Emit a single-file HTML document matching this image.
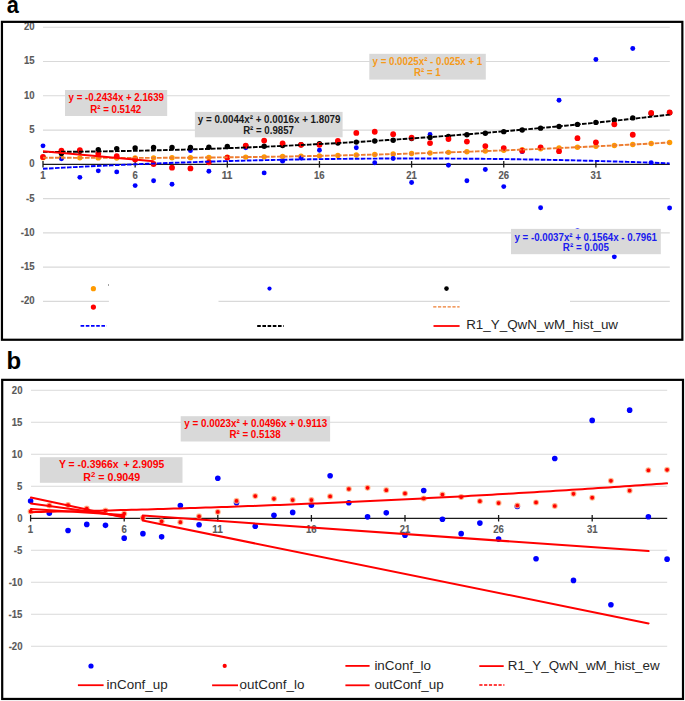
<!DOCTYPE html><html><head><meta charset="utf-8"><title>Chart</title>
<style>html,body{margin:0;padding:0;background:#fff;}svg{display:block;}text{font-family:"Liberation Sans",sans-serif;}</style></head><body>
<svg width="685" height="701" viewBox="0 0 685 701">
<rect x="0" y="0" width="685" height="701" fill="#fff"/>
<text x="6.4" y="368.6" font-size="24" font-weight="bold" fill="#000">b</text>
<text x="6.66" y="13.3" font-size="24" font-weight="bold" fill="#000" textLength="12.10" lengthAdjust="spacingAndGlyphs">a</text>
<line x1="43" y1="27.29" x2="669.8" y2="27.29" stroke="#d9d9d9" stroke-width="1.1"/>
<line x1="43" y1="61.55" x2="669.8" y2="61.55" stroke="#d9d9d9" stroke-width="1.1"/>
<line x1="43" y1="95.82" x2="669.8" y2="95.82" stroke="#d9d9d9" stroke-width="1.1"/>
<line x1="43" y1="130.08" x2="669.8" y2="130.08" stroke="#d9d9d9" stroke-width="1.1"/>
<line x1="43" y1="198.62" x2="669.8" y2="198.62" stroke="#d9d9d9" stroke-width="1.1"/>
<line x1="43" y1="232.88" x2="669.8" y2="232.88" stroke="#d9d9d9" stroke-width="1.1"/>
<line x1="43" y1="267.14" x2="669.8" y2="267.14" stroke="#d9d9d9" stroke-width="1.1"/>
<line x1="43" y1="301.41" x2="108.9" y2="301.41" stroke="#d9d9d9" stroke-width="1.1"/>
<line x1="218.5" y1="301.41" x2="459.8" y2="301.41" stroke="#d9d9d9" stroke-width="1.1"/>
<line x1="570" y1="301.41" x2="669.8" y2="301.41" stroke="#d9d9d9" stroke-width="1.1"/>
<text x="24.05" y="30.19" font-size="10" font-weight="bold" fill="#595959" textLength="10.64" lengthAdjust="spacingAndGlyphs" stroke="#595959" stroke-width="0.12">20</text>
<text x="23.92" y="64.45" font-size="10" font-weight="bold" fill="#595959" textLength="10.64" lengthAdjust="spacingAndGlyphs" stroke="#595959" stroke-width="0.12">15</text>
<text x="24.05" y="98.72" font-size="10" font-weight="bold" fill="#595959" textLength="10.64" lengthAdjust="spacingAndGlyphs" stroke="#595959" stroke-width="0.12">10</text>
<text x="29.24" y="132.98" font-size="10" font-weight="bold" fill="#595959" textLength="5.32" lengthAdjust="spacingAndGlyphs" stroke="#595959" stroke-width="0.12">5</text>
<text x="29.37" y="167.25" font-size="10" font-weight="bold" fill="#595959" textLength="5.32" lengthAdjust="spacingAndGlyphs" stroke="#595959" stroke-width="0.12">0</text>
<text x="26.06" y="201.52" font-size="10" font-weight="bold" fill="#595959" textLength="8.51" lengthAdjust="spacingAndGlyphs" stroke="#595959" stroke-width="0.12">-5</text>
<text x="20.86" y="235.78" font-size="10" font-weight="bold" fill="#595959" textLength="13.83" lengthAdjust="spacingAndGlyphs" stroke="#595959" stroke-width="0.12">-10</text>
<text x="20.73" y="270.04" font-size="10" font-weight="bold" fill="#595959" textLength="13.83" lengthAdjust="spacingAndGlyphs" stroke="#595959" stroke-width="0.12">-15</text>
<text x="20.86" y="304.31" font-size="10" font-weight="bold" fill="#595959" textLength="13.83" lengthAdjust="spacingAndGlyphs" stroke="#595959" stroke-width="0.12">-20</text>
<line x1="43" y1="164.35" x2="669.8" y2="164.35" stroke="#1a1a1a" stroke-width="1.3"/>
<line x1="43" y1="161.05" x2="43" y2="167.55" stroke="#1a1a1a" stroke-width="1.3"/>
<text x="40.17" y="178.7" font-size="10" font-weight="bold" fill="#595959" textLength="5.32" lengthAdjust="spacingAndGlyphs" stroke="#595959" stroke-width="0.12">1</text>
<line x1="135.15" y1="161.05" x2="135.15" y2="167.55" stroke="#1a1a1a" stroke-width="1.3"/>
<text x="132.49" y="178.7" font-size="10" font-weight="bold" fill="#595959" textLength="5.32" lengthAdjust="spacingAndGlyphs" stroke="#595959" stroke-width="0.12">6</text>
<line x1="227.3" y1="161.05" x2="227.3" y2="167.55" stroke="#1a1a1a" stroke-width="1.3"/>
<text x="221.81" y="178.7" font-size="10" font-weight="bold" fill="#595959" textLength="10.64" lengthAdjust="spacingAndGlyphs" stroke="#595959" stroke-width="0.12">11</text>
<line x1="319.45" y1="161.05" x2="319.45" y2="167.55" stroke="#1a1a1a" stroke-width="1.3"/>
<text x="314" y="178.7" font-size="10" font-weight="bold" fill="#595959" textLength="10.64" lengthAdjust="spacingAndGlyphs" stroke="#595959" stroke-width="0.12">16</text>
<line x1="411.6" y1="161.05" x2="411.6" y2="167.55" stroke="#1a1a1a" stroke-width="1.3"/>
<text x="406.24" y="178.7" font-size="10" font-weight="bold" fill="#595959" textLength="10.64" lengthAdjust="spacingAndGlyphs" stroke="#595959" stroke-width="0.12">21</text>
<line x1="503.75" y1="161.05" x2="503.75" y2="167.55" stroke="#1a1a1a" stroke-width="1.3"/>
<text x="498.43" y="178.7" font-size="10" font-weight="bold" fill="#595959" textLength="10.64" lengthAdjust="spacingAndGlyphs" stroke="#595959" stroke-width="0.12">26</text>
<line x1="595.9" y1="161.05" x2="595.9" y2="167.55" stroke="#1a1a1a" stroke-width="1.3"/>
<text x="590.6" y="178.7" font-size="10" font-weight="bold" fill="#595959" textLength="10.64" lengthAdjust="spacingAndGlyphs" stroke="#595959" stroke-width="0.12">31</text>
<circle cx="43" cy="157.65" r="2.7" fill="#ff9a00"/>
<circle cx="61.43" cy="157.77" r="2.7" fill="#ff9a00"/>
<circle cx="79.86" cy="157.86" r="2.7" fill="#ff9a00"/>
<circle cx="98.29" cy="157.91" r="2.7" fill="#ff9a00"/>
<circle cx="116.72" cy="157.93" r="2.7" fill="#ff9a00"/>
<circle cx="135.15" cy="157.91" r="2.7" fill="#ff9a00"/>
<circle cx="153.58" cy="157.86" r="2.7" fill="#ff9a00"/>
<circle cx="172.01" cy="157.77" r="2.7" fill="#ff9a00"/>
<circle cx="190.44" cy="157.65" r="2.7" fill="#ff9a00"/>
<circle cx="208.87" cy="157.5" r="2.7" fill="#ff9a00"/>
<circle cx="227.3" cy="157.31" r="2.7" fill="#ff9a00"/>
<circle cx="245.73" cy="157.09" r="2.7" fill="#ff9a00"/>
<circle cx="264.16" cy="156.83" r="2.7" fill="#ff9a00"/>
<circle cx="282.59" cy="156.54" r="2.7" fill="#ff9a00"/>
<circle cx="301.02" cy="156.21" r="2.7" fill="#ff9a00"/>
<circle cx="319.45" cy="155.85" r="2.7" fill="#ff9a00"/>
<circle cx="337.88" cy="155.46" r="2.7" fill="#ff9a00"/>
<circle cx="356.31" cy="155.03" r="2.7" fill="#ff9a00"/>
<circle cx="374.74" cy="154.57" r="2.7" fill="#ff9a00"/>
<circle cx="393.17" cy="154.07" r="2.7" fill="#ff9a00"/>
<circle cx="411.6" cy="153.54" r="2.7" fill="#ff9a00"/>
<circle cx="430.03" cy="152.97" r="2.7" fill="#ff9a00"/>
<circle cx="448.46" cy="152.37" r="2.7" fill="#ff9a00"/>
<circle cx="466.89" cy="151.74" r="2.7" fill="#ff9a00"/>
<circle cx="485.32" cy="151.07" r="2.7" fill="#ff9a00"/>
<circle cx="503.75" cy="150.37" r="2.7" fill="#ff9a00"/>
<circle cx="522.18" cy="149.63" r="2.7" fill="#ff9a00"/>
<circle cx="540.61" cy="148.86" r="2.7" fill="#ff9a00"/>
<circle cx="559.04" cy="148.06" r="2.7" fill="#ff9a00"/>
<circle cx="577.47" cy="147.22" r="2.7" fill="#ff9a00"/>
<circle cx="595.9" cy="146.34" r="2.7" fill="#ff9a00"/>
<circle cx="614.33" cy="145.44" r="2.7" fill="#ff9a00"/>
<circle cx="632.76" cy="144.49" r="2.7" fill="#ff9a00"/>
<circle cx="651.19" cy="143.52" r="2.7" fill="#ff9a00"/>
<circle cx="669.62" cy="142.51" r="2.7" fill="#ff9a00"/>
<circle cx="43" cy="145.85" r="2.45" fill="#0000ff"/>
<circle cx="61.43" cy="158.87" r="2.45" fill="#0000ff"/>
<circle cx="79.86" cy="177.37" r="2.45" fill="#0000ff"/>
<circle cx="98.29" cy="170.86" r="2.45" fill="#0000ff"/>
<circle cx="116.72" cy="171.89" r="2.45" fill="#0000ff"/>
<circle cx="135.15" cy="185.59" r="2.45" fill="#0000ff"/>
<circle cx="153.58" cy="180.8" r="2.45" fill="#0000ff"/>
<circle cx="172.01" cy="184.22" r="2.45" fill="#0000ff"/>
<circle cx="190.44" cy="150.64" r="2.45" fill="#0000ff"/>
<circle cx="208.87" cy="171.2" r="2.45" fill="#0000ff"/>
<circle cx="227.3" cy="121.52" r="2.45" fill="#0000ff"/>
<circle cx="245.73" cy="147.77" r="2.45" fill="#0000ff"/>
<circle cx="264.16" cy="172.92" r="2.45" fill="#0000ff"/>
<circle cx="282.59" cy="161.13" r="2.45" fill="#0000ff"/>
<circle cx="301.02" cy="158.05" r="2.45" fill="#0000ff"/>
<circle cx="319.45" cy="150.3" r="2.45" fill="#0000ff"/>
<circle cx="337.88" cy="118.78" r="2.45" fill="#0000ff"/>
<circle cx="356.31" cy="147.77" r="2.45" fill="#0000ff"/>
<circle cx="374.74" cy="162.77" r="2.45" fill="#0000ff"/>
<circle cx="393.17" cy="158.52" r="2.45" fill="#0000ff"/>
<circle cx="411.6" cy="182.51" r="2.45" fill="#0000ff"/>
<circle cx="430.03" cy="134.54" r="2.45" fill="#0000ff"/>
<circle cx="448.46" cy="165.31" r="2.45" fill="#0000ff"/>
<circle cx="466.89" cy="180.8" r="2.45" fill="#0000ff"/>
<circle cx="485.32" cy="169.49" r="2.45" fill="#0000ff"/>
<circle cx="503.75" cy="186.62" r="2.45" fill="#0000ff"/>
<circle cx="522.18" cy="151.67" r="2.45" fill="#0000ff"/>
<circle cx="540.61" cy="207.73" r="2.45" fill="#0000ff"/>
<circle cx="559.04" cy="100.27" r="2.45" fill="#0000ff"/>
<circle cx="577.47" cy="230.82" r="2.45" fill="#0000ff"/>
<circle cx="595.9" cy="59.5" r="2.45" fill="#0000ff"/>
<circle cx="614.33" cy="256.87" r="2.45" fill="#0000ff"/>
<circle cx="632.76" cy="48.53" r="2.45" fill="#0000ff"/>
<circle cx="651.19" cy="162.64" r="2.45" fill="#0000ff"/>
<circle cx="669.62" cy="208.07" r="2.45" fill="#0000ff"/>
<circle cx="61.43" cy="153.39" r="2.7" fill="#000"/>
<circle cx="79.86" cy="151.33" r="2.7" fill="#000"/>
<circle cx="98.29" cy="149.62" r="2.7" fill="#000"/>
<circle cx="116.72" cy="148.59" r="2.7" fill="#000"/>
<circle cx="135.15" cy="147.97" r="2.7" fill="#000"/>
<circle cx="153.58" cy="147.56" r="2.7" fill="#000"/>
<circle cx="172.01" cy="147.56" r="2.7" fill="#000"/>
<circle cx="190.44" cy="147.56" r="2.7" fill="#000"/>
<circle cx="208.87" cy="147.22" r="2.7" fill="#000"/>
<circle cx="227.3" cy="146.53" r="2.7" fill="#000"/>
<circle cx="245.73" cy="145.85" r="2.7" fill="#000"/>
<circle cx="264.16" cy="146.19" r="2.7" fill="#000"/>
<circle cx="282.59" cy="145.5" r="2.7" fill="#000"/>
<circle cx="301.02" cy="144.82" r="2.7" fill="#000"/>
<circle cx="319.45" cy="143.79" r="2.7" fill="#000"/>
<circle cx="337.88" cy="143.11" r="2.7" fill="#000"/>
<circle cx="356.31" cy="142.08" r="2.7" fill="#000"/>
<circle cx="374.74" cy="141.05" r="2.7" fill="#000"/>
<circle cx="393.17" cy="140.23" r="2.7" fill="#000"/>
<circle cx="411.6" cy="138.58" r="2.7" fill="#000"/>
<circle cx="430.03" cy="137.42" r="2.7" fill="#000"/>
<circle cx="448.46" cy="136.39" r="2.7" fill="#000"/>
<circle cx="466.89" cy="134.68" r="2.7" fill="#000"/>
<circle cx="485.32" cy="133.31" r="2.7" fill="#000"/>
<circle cx="503.75" cy="131.66" r="2.7" fill="#000"/>
<circle cx="522.18" cy="130.02" r="2.7" fill="#000"/>
<circle cx="540.61" cy="128.17" r="2.7" fill="#000"/>
<circle cx="559.04" cy="126.45" r="2.7" fill="#000"/>
<circle cx="577.47" cy="124.4" r="2.7" fill="#000"/>
<circle cx="595.9" cy="122.41" r="2.7" fill="#000"/>
<circle cx="614.33" cy="119.87" r="2.7" fill="#000"/>
<circle cx="632.76" cy="117.89" r="2.7" fill="#000"/>
<circle cx="651.19" cy="113.5" r="2.7" fill="#000"/>
<circle cx="669.62" cy="112.82" r="2.7" fill="#000"/>
<circle cx="43" cy="157.02" r="2.9" fill="#ff0000"/>
<circle cx="61.43" cy="150.64" r="2.9" fill="#ff0000"/>
<circle cx="79.86" cy="150.1" r="2.9" fill="#ff0000"/>
<circle cx="98.29" cy="153.86" r="2.9" fill="#ff0000"/>
<circle cx="116.72" cy="156.13" r="2.9" fill="#ff0000"/>
<circle cx="135.15" cy="159.42" r="2.9" fill="#ff0000"/>
<circle cx="153.58" cy="164.01" r="2.9" fill="#ff0000"/>
<circle cx="172.01" cy="167.64" r="2.9" fill="#ff0000"/>
<circle cx="190.44" cy="168.46" r="2.9" fill="#ff0000"/>
<circle cx="208.87" cy="162.29" r="2.9" fill="#ff0000"/>
<circle cx="227.3" cy="157.57" r="2.9" fill="#ff0000"/>
<circle cx="245.73" cy="145.71" r="2.9" fill="#ff0000"/>
<circle cx="264.16" cy="140.57" r="2.9" fill="#ff0000"/>
<circle cx="282.59" cy="143.45" r="2.9" fill="#ff0000"/>
<circle cx="301.02" cy="144.82" r="2.9" fill="#ff0000"/>
<circle cx="319.45" cy="144.82" r="2.9" fill="#ff0000"/>
<circle cx="337.88" cy="140.91" r="2.9" fill="#ff0000"/>
<circle cx="356.31" cy="132.96" r="2.9" fill="#ff0000"/>
<circle cx="374.74" cy="131.73" r="2.9" fill="#ff0000"/>
<circle cx="393.17" cy="134.2" r="2.9" fill="#ff0000"/>
<circle cx="411.6" cy="137.76" r="2.9" fill="#ff0000"/>
<circle cx="430.03" cy="143.11" r="2.9" fill="#ff0000"/>
<circle cx="448.46" cy="138.99" r="2.9" fill="#ff0000"/>
<circle cx="466.89" cy="141.6" r="2.9" fill="#ff0000"/>
<circle cx="485.32" cy="146.05" r="2.9" fill="#ff0000"/>
<circle cx="503.75" cy="148.04" r="2.9" fill="#ff0000"/>
<circle cx="522.18" cy="150.64" r="2.9" fill="#ff0000"/>
<circle cx="540.61" cy="147.35" r="2.9" fill="#ff0000"/>
<circle cx="559.04" cy="151.19" r="2.9" fill="#ff0000"/>
<circle cx="577.47" cy="138.17" r="2.9" fill="#ff0000"/>
<circle cx="595.9" cy="142.28" r="2.9" fill="#ff0000"/>
<circle cx="614.33" cy="124.26" r="2.9" fill="#ff0000"/>
<circle cx="632.76" cy="134.75" r="2.9" fill="#ff0000"/>
<circle cx="651.19" cy="112.95" r="2.9" fill="#ff0000"/>
<circle cx="669.62" cy="112.47" r="2.9" fill="#ff0000"/>
<polyline points="43,151.92 48.22,151.9 53.44,151.87 58.67,151.84 63.89,151.8 69.11,151.76 74.33,151.71 79.55,151.66 84.77,151.6 90,151.54 95.22,151.48 100.44,151.4 105.66,151.33 110.88,151.25 116.11,151.16 121.33,151.07 126.55,150.98 131.77,150.88 136.99,150.77 142.21,150.66 147.44,150.55 152.66,150.43 157.88,150.3 163.1,150.17 168.32,150.04 173.55,149.9 178.77,149.76 183.99,149.61 189.21,149.46 194.43,149.3 199.66,149.13 204.88,148.97 210.1,148.79 215.32,148.62 220.54,148.43 225.76,148.25 230.99,148.06 236.21,147.86 241.43,147.66 246.65,147.45 251.87,147.24 257.1,147.02 262.32,146.8 267.54,146.58 272.76,146.34 277.98,146.11 283.2,145.87 288.43,145.62 293.65,145.37 298.87,145.12 304.09,144.86 309.31,144.59 314.54,144.32 319.76,144.05 324.98,143.77 330.2,143.49 335.42,143.2 340.64,142.9 345.87,142.61 351.09,142.3 356.31,141.99 361.53,141.68 366.75,141.36 371.98,141.04 377.2,140.71 382.42,140.38 387.64,140.04 392.86,139.7 398.08,139.35 403.31,139 408.53,138.64 413.75,138.28 418.97,137.92 424.19,137.55 429.42,137.17 434.64,136.79 439.86,136.4 445.08,136.01 450.3,135.62 455.52,135.22 460.75,134.81 465.97,134.4 471.19,133.99 476.41,133.57 481.63,133.14 486.86,132.71 492.08,132.28 497.3,131.84 502.52,131.4 507.74,130.95 512.96,130.49 518.19,130.04 523.41,129.57 528.63,129.11 533.85,128.63 539.07,128.15 544.3,127.67 549.52,127.18 554.74,126.69 559.96,126.2 565.18,125.69 570.41,125.19 575.63,124.68 580.85,124.16 586.07,123.64 591.29,123.11 596.51,122.58 601.74,122.04 606.96,121.5 612.18,120.96 617.4,120.41 622.62,119.85 627.85,119.29 633.07,118.73 638.29,118.16 643.51,117.58 648.73,117 653.95,116.42 659.18,115.83 664.4,115.24 669.62,114.64" fill="none" stroke="#000" stroke-width="1.9" stroke-dasharray="4.6 1.4"/>
<polyline points="43,157.65 48.22,157.69 53.44,157.72 58.67,157.76 63.89,157.78 69.11,157.81 74.33,157.83 79.55,157.86 84.77,157.87 90,157.89 95.22,157.9 100.44,157.91 105.66,157.92 110.88,157.92 116.11,157.93 121.33,157.92 126.55,157.92 131.77,157.91 136.99,157.9 142.21,157.89 147.44,157.88 152.66,157.86 157.88,157.84 163.1,157.82 168.32,157.79 173.55,157.76 178.77,157.73 183.99,157.7 189.21,157.66 194.43,157.62 199.66,157.58 204.88,157.53 210.1,157.49 215.32,157.43 220.54,157.38 225.76,157.33 230.99,157.27 236.21,157.21 241.43,157.14 246.65,157.07 251.87,157 257.1,156.93 262.32,156.86 267.54,156.78 272.76,156.7 277.98,156.61 283.2,156.53 288.43,156.44 293.65,156.35 298.87,156.25 304.09,156.15 309.31,156.05 314.54,155.95 319.76,155.85 324.98,155.74 330.2,155.63 335.42,155.51 340.64,155.4 345.87,155.28 351.09,155.15 356.31,155.03 361.53,154.9 366.75,154.77 371.98,154.64 377.2,154.5 382.42,154.36 387.64,154.22 392.86,154.08 398.08,153.93 403.31,153.78 408.53,153.63 413.75,153.48 418.97,153.32 424.19,153.16 429.42,152.99 434.64,152.83 439.86,152.66 445.08,152.49 450.3,152.31 455.52,152.14 460.75,151.96 465.97,151.77 471.19,151.59 476.41,151.4 481.63,151.21 486.86,151.02 492.08,150.82 497.3,150.62 502.52,150.42 507.74,150.21 512.96,150.01 518.19,149.8 523.41,149.58 528.63,149.37 533.85,149.15 539.07,148.93 544.3,148.7 549.52,148.48 554.74,148.25 559.96,148.02 565.18,147.78 570.41,147.54 575.63,147.3 580.85,147.06 586.07,146.81 591.29,146.57 596.51,146.31 601.74,146.06 606.96,145.8 612.18,145.54 617.4,145.28 622.62,145.02 627.85,144.75 633.07,144.48 638.29,144.2 643.51,143.93 648.73,143.65 653.95,143.37 659.18,143.08 664.4,142.8 669.62,142.51" fill="none" stroke="#ed7d31" stroke-width="1.9" stroke-dasharray="4.6 1.4"/>
<polyline points="43,168.76 48.22,168.47 53.44,168.19 58.67,167.91 63.89,167.63 69.11,167.36 74.33,167.1 79.55,166.83 84.77,166.58 90,166.32 95.22,166.07 100.44,165.82 105.66,165.58 110.88,165.34 116.11,165.11 121.33,164.88 126.55,164.65 131.77,164.43 136.99,164.21 142.21,164 147.44,163.79 152.66,163.58 157.88,163.38 163.1,163.18 168.32,162.99 173.55,162.8 178.77,162.61 183.99,162.43 189.21,162.25 194.43,162.08 199.66,161.91 204.88,161.75 210.1,161.59 215.32,161.43 220.54,161.28 225.76,161.13 230.99,160.98 236.21,160.84 241.43,160.7 246.65,160.57 251.87,160.44 257.1,160.32 262.32,160.2 267.54,160.08 272.76,159.97 277.98,159.86 283.2,159.76 288.43,159.66 293.65,159.56 298.87,159.47 304.09,159.38 309.31,159.3 314.54,159.22 319.76,159.14 324.98,159.07 330.2,159 335.42,158.94 340.64,158.88 345.87,158.83 351.09,158.78 356.31,158.73 361.53,158.69 366.75,158.65 371.98,158.61 377.2,158.58 382.42,158.55 387.64,158.53 392.86,158.51 398.08,158.5 403.31,158.49 408.53,158.48 413.75,158.48 418.97,158.48 424.19,158.49 429.42,158.5 434.64,158.51 439.86,158.53 445.08,158.55 450.3,158.58 455.52,158.61 460.75,158.64 465.97,158.68 471.19,158.72 476.41,158.77 481.63,158.82 486.86,158.87 492.08,158.93 497.3,159 502.52,159.06 507.74,159.13 512.96,159.21 518.19,159.29 523.41,159.37 528.63,159.46 533.85,159.55 539.07,159.65 544.3,159.74 549.52,159.85 554.74,159.96 559.96,160.07 565.18,160.18 570.41,160.3 575.63,160.43 580.85,160.56 586.07,160.69 591.29,160.82 596.51,160.96 601.74,161.11 606.96,161.26 612.18,161.41 617.4,161.56 622.62,161.73 627.85,161.89 633.07,162.06 638.29,162.23 643.51,162.41 648.73,162.59 653.95,162.77 659.18,162.96 664.4,163.16 669.62,163.35" fill="none" stroke="#0000ff" stroke-width="1.9" stroke-dasharray="4.6 1.4"/>
<line x1="43" y1="151.19" x2="153.58" y2="161.2" stroke="#ff0000" stroke-width="2"/>
<rect x="65" y="90" width="102.2" height="26" fill="#d9d9d9"/>
<text x="68.62" y="100.9" font-size="10.3" font-weight="bold" fill="#ff0000" textLength="95.34" lengthAdjust="spacingAndGlyphs">y = -0.2434x + 2.1639</text>
<text x="90.25" y="112.6" font-size="10.3" font-weight="bold" fill="#ff0000" textLength="50.94" lengthAdjust="spacingAndGlyphs">R² = 0.5142</text>
<rect x="194.9" y="111.9" width="147.7" height="25.4" fill="#d9d9d9"/>
<text x="197.82" y="123.4" font-size="10.3" font-weight="bold" fill="#1a1a1a" textLength="142.64" lengthAdjust="spacingAndGlyphs">y = 0.0044x² + 0.0016x + 1.8079</text>
<text x="243.15" y="134.2" font-size="10.3" font-weight="bold" fill="#1a1a1a" textLength="50.77" lengthAdjust="spacingAndGlyphs">R² = 0.9857</text>
<rect x="369.3" y="53.8" width="116.5" height="25.8" fill="#d9d9d9"/>
<text x="372.52" y="65" font-size="10.3" font-weight="bold" fill="#f59a1a" textLength="109.75" lengthAdjust="spacingAndGlyphs">y = 0.0025x² - 0.025x + 1</text>
<text x="413.95" y="76.2" font-size="10.3" font-weight="bold" fill="#f59a1a" textLength="26.72" lengthAdjust="spacingAndGlyphs">R² = 1</text>
<rect x="511" y="228.9" width="149.8" height="25.3" fill="#d9d9d9"/>
<text x="514.52" y="240.8" font-size="10.3" font-weight="bold" fill="#1a1aee" textLength="142.45" lengthAdjust="spacingAndGlyphs">y = -0.0037x² + 0.1564x - 0.7961</text>
<text x="562.84" y="251.4" font-size="10.3" font-weight="bold" fill="#1a1aee" textLength="46.03" lengthAdjust="spacingAndGlyphs">R² = 0.005</text>
<circle cx="93.4" cy="288.7" r="2.6" fill="#ff9a00"/>
<circle cx="93.4" cy="307.1" r="2.6" fill="#ff0000"/>
<circle cx="269.5" cy="288.6" r="2.1" fill="#0000ff"/>
<circle cx="446.5" cy="288.6" r="2.3" fill="#000"/>
<rect x="108" y="284" width="0.9" height="2" fill="#999"/>
<line x1="433.2" y1="306.9" x2="459.6" y2="306.9" stroke="#ed7d31" stroke-width="1.4" stroke-dasharray="3.2 1.6"/>
<line x1="80.6" y1="325.9" x2="106.7" y2="325.9" stroke="#0000ff" stroke-width="1.8" stroke-dasharray="3.6 1.6"/>
<line x1="257.2" y1="326" x2="283.8" y2="326" stroke="#000" stroke-width="1.8" stroke-dasharray="3.6 1.6"/>
<line x1="433.5" y1="326" x2="459.6" y2="326" stroke="#ff0000" stroke-width="1.8"/>
<text x="466.2" y="329.2" font-size="13.4" fill="#262626">R1_Y_QwN_wM_hist_uw</text>
<rect x="1.95" y="21.85" width="680.4" height="317.9" fill="none" stroke="#000" stroke-width="2.2"/>
<line x1="31" y1="390.3" x2="667.2" y2="390.3" stroke="#d9d9d9" stroke-width="1.1"/>
<line x1="31" y1="422.3" x2="667.2" y2="422.3" stroke="#d9d9d9" stroke-width="1.1"/>
<line x1="31" y1="454.3" x2="667.2" y2="454.3" stroke="#d9d9d9" stroke-width="1.1"/>
<line x1="31" y1="486.3" x2="667.2" y2="486.3" stroke="#d9d9d9" stroke-width="1.1"/>
<line x1="31" y1="550.3" x2="667.2" y2="550.3" stroke="#d9d9d9" stroke-width="1.1"/>
<line x1="31" y1="582.3" x2="667.2" y2="582.3" stroke="#d9d9d9" stroke-width="1.1"/>
<line x1="31" y1="614.3" x2="667.2" y2="614.3" stroke="#d9d9d9" stroke-width="1.1"/>
<line x1="31" y1="646.3" x2="667.2" y2="646.3" stroke="#d9d9d9" stroke-width="1.1"/>
<text x="11.85" y="393.7" font-size="10" font-weight="bold" fill="#595959" textLength="10.64" lengthAdjust="spacingAndGlyphs" stroke="#595959" stroke-width="0.12">20</text>
<text x="11.72" y="425.7" font-size="10" font-weight="bold" fill="#595959" textLength="10.64" lengthAdjust="spacingAndGlyphs" stroke="#595959" stroke-width="0.12">15</text>
<text x="11.85" y="457.7" font-size="10" font-weight="bold" fill="#595959" textLength="10.64" lengthAdjust="spacingAndGlyphs" stroke="#595959" stroke-width="0.12">10</text>
<text x="17.04" y="489.7" font-size="10" font-weight="bold" fill="#595959" textLength="5.32" lengthAdjust="spacingAndGlyphs" stroke="#595959" stroke-width="0.12">5</text>
<text x="17.17" y="521.7" font-size="10" font-weight="bold" fill="#595959" textLength="5.32" lengthAdjust="spacingAndGlyphs" stroke="#595959" stroke-width="0.12">0</text>
<text x="13.86" y="553.7" font-size="10" font-weight="bold" fill="#595959" textLength="8.51" lengthAdjust="spacingAndGlyphs" stroke="#595959" stroke-width="0.12">-5</text>
<text x="8.66" y="585.7" font-size="10" font-weight="bold" fill="#595959" textLength="13.83" lengthAdjust="spacingAndGlyphs" stroke="#595959" stroke-width="0.12">-10</text>
<text x="8.53" y="617.7" font-size="10" font-weight="bold" fill="#595959" textLength="13.83" lengthAdjust="spacingAndGlyphs" stroke="#595959" stroke-width="0.12">-15</text>
<text x="8.66" y="649.7" font-size="10" font-weight="bold" fill="#595959" textLength="13.83" lengthAdjust="spacingAndGlyphs" stroke="#595959" stroke-width="0.12">-20</text>
<line x1="30.6" y1="518.3" x2="667.2" y2="518.3" stroke="#1a1a1a" stroke-width="1.3"/>
<line x1="30.6" y1="515" x2="30.6" y2="521.5" stroke="#1a1a1a" stroke-width="1.3"/>
<text x="27.77" y="532.9" font-size="10" font-weight="bold" fill="#595959" textLength="5.32" lengthAdjust="spacingAndGlyphs" stroke="#595959" stroke-width="0.12">1</text>
<line x1="124.2" y1="515" x2="124.2" y2="521.5" stroke="#1a1a1a" stroke-width="1.3"/>
<text x="121.54" y="532.9" font-size="10" font-weight="bold" fill="#595959" textLength="5.32" lengthAdjust="spacingAndGlyphs" stroke="#595959" stroke-width="0.12">6</text>
<line x1="217.8" y1="515" x2="217.8" y2="521.5" stroke="#1a1a1a" stroke-width="1.3"/>
<text x="212.31" y="532.9" font-size="10" font-weight="bold" fill="#595959" textLength="10.64" lengthAdjust="spacingAndGlyphs" stroke="#595959" stroke-width="0.12">11</text>
<line x1="311.4" y1="515" x2="311.4" y2="521.5" stroke="#1a1a1a" stroke-width="1.3"/>
<text x="305.95" y="532.9" font-size="10" font-weight="bold" fill="#595959" textLength="10.64" lengthAdjust="spacingAndGlyphs" stroke="#595959" stroke-width="0.12">16</text>
<line x1="405" y1="515" x2="405" y2="521.5" stroke="#1a1a1a" stroke-width="1.3"/>
<text x="399.64" y="532.9" font-size="10" font-weight="bold" fill="#595959" textLength="10.64" lengthAdjust="spacingAndGlyphs" stroke="#595959" stroke-width="0.12">21</text>
<line x1="498.6" y1="515" x2="498.6" y2="521.5" stroke="#1a1a1a" stroke-width="1.3"/>
<text x="493.28" y="532.9" font-size="10" font-weight="bold" fill="#595959" textLength="10.64" lengthAdjust="spacingAndGlyphs" stroke="#595959" stroke-width="0.12">26</text>
<line x1="592.2" y1="515" x2="592.2" y2="521.5" stroke="#1a1a1a" stroke-width="1.3"/>
<text x="586.9" y="532.9" font-size="10" font-weight="bold" fill="#595959" textLength="10.64" lengthAdjust="spacingAndGlyphs" stroke="#595959" stroke-width="0.12">31</text>
<circle cx="30.6" cy="501.02" r="2.8" fill="#0000ff"/>
<circle cx="49.32" cy="513.18" r="2.8" fill="#0000ff"/>
<circle cx="68.04" cy="530.46" r="2.8" fill="#0000ff"/>
<circle cx="86.76" cy="524.38" r="2.8" fill="#0000ff"/>
<circle cx="105.48" cy="525.34" r="2.8" fill="#0000ff"/>
<circle cx="124.2" cy="538.14" r="2.8" fill="#0000ff"/>
<circle cx="142.92" cy="533.66" r="2.8" fill="#0000ff"/>
<circle cx="161.64" cy="536.86" r="2.8" fill="#0000ff"/>
<circle cx="180.36" cy="505.5" r="2.8" fill="#0000ff"/>
<circle cx="199.08" cy="524.7" r="2.8" fill="#0000ff"/>
<circle cx="217.8" cy="478.3" r="2.8" fill="#0000ff"/>
<circle cx="236.52" cy="502.81" r="2.8" fill="#0000ff"/>
<circle cx="255.24" cy="526.3" r="2.8" fill="#0000ff"/>
<circle cx="273.96" cy="515.29" r="2.8" fill="#0000ff"/>
<circle cx="292.68" cy="512.41" r="2.8" fill="#0000ff"/>
<circle cx="311.4" cy="505.18" r="2.8" fill="#0000ff"/>
<circle cx="330.12" cy="475.74" r="2.8" fill="#0000ff"/>
<circle cx="348.84" cy="502.81" r="2.8" fill="#0000ff"/>
<circle cx="367.56" cy="516.83" r="2.8" fill="#0000ff"/>
<circle cx="386.28" cy="512.86" r="2.8" fill="#0000ff"/>
<circle cx="405" cy="535.26" r="2.8" fill="#0000ff"/>
<circle cx="423.72" cy="490.46" r="2.8" fill="#0000ff"/>
<circle cx="442.44" cy="519.2" r="2.8" fill="#0000ff"/>
<circle cx="461.16" cy="533.66" r="2.8" fill="#0000ff"/>
<circle cx="479.88" cy="523.1" r="2.8" fill="#0000ff"/>
<circle cx="498.6" cy="539.1" r="2.8" fill="#0000ff"/>
<circle cx="517.32" cy="506.46" r="2.8" fill="#0000ff"/>
<circle cx="536.04" cy="558.81" r="2.8" fill="#0000ff"/>
<circle cx="554.76" cy="458.46" r="2.8" fill="#0000ff"/>
<circle cx="573.48" cy="580.38" r="2.8" fill="#0000ff"/>
<circle cx="592.2" cy="420.38" r="2.8" fill="#0000ff"/>
<circle cx="610.92" cy="604.7" r="2.8" fill="#0000ff"/>
<circle cx="629.64" cy="410.14" r="2.8" fill="#0000ff"/>
<circle cx="648.36" cy="516.7" r="2.8" fill="#0000ff"/>
<circle cx="667.08" cy="559.13" r="2.8" fill="#0000ff"/>
<circle cx="30.6" cy="511.45" r="2.45" fill="#ff0000" stroke="#ffb98a" stroke-opacity="0.8" stroke-width="1.2"/>
<circle cx="49.32" cy="505.5" r="2.45" fill="#ff0000" stroke="#ffb98a" stroke-opacity="0.8" stroke-width="1.2"/>
<circle cx="68.04" cy="504.99" r="2.45" fill="#ff0000" stroke="#ffb98a" stroke-opacity="0.8" stroke-width="1.2"/>
<circle cx="86.76" cy="508.51" r="2.45" fill="#ff0000" stroke="#ffb98a" stroke-opacity="0.8" stroke-width="1.2"/>
<circle cx="105.48" cy="510.62" r="2.45" fill="#ff0000" stroke="#ffb98a" stroke-opacity="0.8" stroke-width="1.2"/>
<circle cx="124.2" cy="513.69" r="2.45" fill="#ff0000" stroke="#ffb98a" stroke-opacity="0.8" stroke-width="1.2"/>
<circle cx="142.92" cy="517.98" r="2.45" fill="#ff0000" stroke="#ffb98a" stroke-opacity="0.8" stroke-width="1.2"/>
<circle cx="161.64" cy="521.37" r="2.45" fill="#ff0000" stroke="#ffb98a" stroke-opacity="0.8" stroke-width="1.2"/>
<circle cx="180.36" cy="522.14" r="2.45" fill="#ff0000" stroke="#ffb98a" stroke-opacity="0.8" stroke-width="1.2"/>
<circle cx="199.08" cy="516.38" r="2.45" fill="#ff0000" stroke="#ffb98a" stroke-opacity="0.8" stroke-width="1.2"/>
<circle cx="217.8" cy="511.96" r="2.45" fill="#ff0000" stroke="#ffb98a" stroke-opacity="0.8" stroke-width="1.2"/>
<circle cx="236.52" cy="500.89" r="2.45" fill="#ff0000" stroke="#ffb98a" stroke-opacity="0.8" stroke-width="1.2"/>
<circle cx="255.24" cy="496.09" r="2.45" fill="#ff0000" stroke="#ffb98a" stroke-opacity="0.8" stroke-width="1.2"/>
<circle cx="273.96" cy="498.78" r="2.45" fill="#ff0000" stroke="#ffb98a" stroke-opacity="0.8" stroke-width="1.2"/>
<circle cx="292.68" cy="500.06" r="2.45" fill="#ff0000" stroke="#ffb98a" stroke-opacity="0.8" stroke-width="1.2"/>
<circle cx="311.4" cy="500.06" r="2.45" fill="#ff0000" stroke="#ffb98a" stroke-opacity="0.8" stroke-width="1.2"/>
<circle cx="330.12" cy="496.41" r="2.45" fill="#ff0000" stroke="#ffb98a" stroke-opacity="0.8" stroke-width="1.2"/>
<circle cx="348.84" cy="488.99" r="2.45" fill="#ff0000" stroke="#ffb98a" stroke-opacity="0.8" stroke-width="1.2"/>
<circle cx="367.56" cy="487.84" r="2.45" fill="#ff0000" stroke="#ffb98a" stroke-opacity="0.8" stroke-width="1.2"/>
<circle cx="386.28" cy="490.14" r="2.45" fill="#ff0000" stroke="#ffb98a" stroke-opacity="0.8" stroke-width="1.2"/>
<circle cx="405" cy="493.47" r="2.45" fill="#ff0000" stroke="#ffb98a" stroke-opacity="0.8" stroke-width="1.2"/>
<circle cx="423.72" cy="498.46" r="2.45" fill="#ff0000" stroke="#ffb98a" stroke-opacity="0.8" stroke-width="1.2"/>
<circle cx="442.44" cy="494.62" r="2.45" fill="#ff0000" stroke="#ffb98a" stroke-opacity="0.8" stroke-width="1.2"/>
<circle cx="461.16" cy="497.05" r="2.45" fill="#ff0000" stroke="#ffb98a" stroke-opacity="0.8" stroke-width="1.2"/>
<circle cx="479.88" cy="501.21" r="2.45" fill="#ff0000" stroke="#ffb98a" stroke-opacity="0.8" stroke-width="1.2"/>
<circle cx="498.6" cy="503.07" r="2.45" fill="#ff0000" stroke="#ffb98a" stroke-opacity="0.8" stroke-width="1.2"/>
<circle cx="517.32" cy="505.5" r="2.45" fill="#ff0000" stroke="#ffb98a" stroke-opacity="0.8" stroke-width="1.2"/>
<circle cx="536.04" cy="502.43" r="2.45" fill="#ff0000" stroke="#ffb98a" stroke-opacity="0.8" stroke-width="1.2"/>
<circle cx="554.76" cy="506.01" r="2.45" fill="#ff0000" stroke="#ffb98a" stroke-opacity="0.8" stroke-width="1.2"/>
<circle cx="573.48" cy="493.85" r="2.45" fill="#ff0000" stroke="#ffb98a" stroke-opacity="0.8" stroke-width="1.2"/>
<circle cx="592.2" cy="497.69" r="2.45" fill="#ff0000" stroke="#ffb98a" stroke-opacity="0.8" stroke-width="1.2"/>
<circle cx="610.92" cy="480.86" r="2.45" fill="#ff0000" stroke="#ffb98a" stroke-opacity="0.8" stroke-width="1.2"/>
<circle cx="629.64" cy="490.65" r="2.45" fill="#ff0000" stroke="#ffb98a" stroke-opacity="0.8" stroke-width="1.2"/>
<circle cx="648.36" cy="470.3" r="2.45" fill="#ff0000" stroke="#ffb98a" stroke-opacity="0.8" stroke-width="1.2"/>
<circle cx="667.08" cy="469.85" r="2.45" fill="#ff0000" stroke="#ffb98a" stroke-opacity="0.8" stroke-width="1.2"/>
<polyline points="30.6,512.14 35.9,512.04 41.21,511.93 46.51,511.83 51.82,511.72 57.12,511.61 62.42,511.5 67.73,511.39 73.03,511.27 78.34,511.16 83.64,511.03 88.94,510.91 94.25,510.79 99.55,510.66 104.86,510.53 110.16,510.4 115.46,510.26 120.77,510.12 126.07,509.98 131.38,509.84 136.68,509.7 141.98,509.55 147.29,509.4 152.59,509.25 157.9,509.1 163.2,508.94 168.5,508.78 173.81,508.62 179.11,508.46 184.42,508.29 189.72,508.12 195.02,507.95 200.33,507.78 205.63,507.61 210.94,507.43 216.24,507.25 221.54,507.07 226.85,506.88 232.15,506.69 237.46,506.51 242.76,506.31 248.06,506.12 253.37,505.92 258.67,505.72 263.98,505.52 269.28,505.32 274.58,505.11 279.89,504.91 285.19,504.7 290.5,504.48 295.8,504.27 301.1,504.05 306.41,503.83 311.71,503.61 317.02,503.38 322.32,503.16 327.62,502.93 332.93,502.69 338.23,502.46 343.54,502.22 348.84,501.98 354.14,501.74 359.45,501.5 364.75,501.25 370.06,501.01 375.36,500.75 380.66,500.5 385.97,500.25 391.27,499.99 396.58,499.73 401.88,499.47 407.18,499.2 412.49,498.93 417.79,498.66 423.1,498.39 428.4,498.12 433.7,497.84 439.01,497.56 444.31,497.28 449.62,497 454.92,496.71 460.22,496.42 465.53,496.13 470.83,495.84 476.14,495.54 481.44,495.24 486.74,494.94 492.05,494.64 497.35,494.34 502.66,494.03 507.96,493.72 513.26,493.41 518.57,493.09 523.87,492.77 529.18,492.46 534.48,492.13 539.78,491.81 545.09,491.48 550.39,491.15 555.7,490.82 561,490.49 566.3,490.15 571.61,489.82 576.91,489.48 582.22,489.13 587.52,488.79 592.82,488.44 598.13,488.09 603.43,487.74 608.74,487.38 614.04,487.03 619.34,486.67 624.65,486.3 629.95,485.94 635.26,485.57 640.56,485.21 645.86,484.83 651.17,484.46 656.47,484.08 661.78,483.71 667.08,483.33" stroke="#ff0000" stroke-width="2" fill="none" stroke-linecap="round"/>
<line x1="30.9" y1="497.6" x2="124.2" y2="517.4" stroke="#ff0000" stroke-width="2" fill="none" stroke-linecap="round"/>
<line x1="30.9" y1="503.4" x2="124.2" y2="516.4" stroke="#ff0000" stroke-width="2" fill="none" stroke-linecap="round"/>
<line x1="30.9" y1="509.0" x2="124.2" y2="514.9" stroke="#ff0000" stroke-width="2" fill="none" stroke-linecap="round"/>
<polyline points="648.6,551.1 142.7,515.6 142.7,520.6 648.6,623.4" stroke="#ff0000" stroke-width="2" fill="none" stroke-linecap="round" stroke-linejoin="round"/>
<rect x="180.7" y="416.2" width="149.4" height="25.3" fill="#d9d9d9"/>
<text x="184.32" y="427.3" font-size="10.3" font-weight="bold" fill="#ff0000" textLength="142.93" lengthAdjust="spacingAndGlyphs">y = 0.0023x² + 0.0496x + 0.9113</text>
<text x="229.45" y="438.4" font-size="10.3" font-weight="bold" fill="#ff0000" textLength="51.25" lengthAdjust="spacingAndGlyphs">R² = 0.5138</text>
<rect x="39.9" y="457.2" width="142.6" height="25.6" fill="#d9d9d9"/>
<text x="58.92" y="468.2" font-size="10.4" font-weight="bold" fill="#ff0000" textLength="105.37" lengthAdjust="spacingAndGlyphs">Y = -0.3966x  + 2.9095</text>
<text x="83.2" y="480.6" font-size="10.4" font-weight="bold" fill="#ff0000" textLength="57" lengthAdjust="spacingAndGlyphs">R<tspan font-size="7.6" dy="-4">2</tspan><tspan dy="4"> = 0.9049</tspan></text>
<circle cx="91" cy="666" r="2.6" fill="#0000ff"/>
<circle cx="224.7" cy="665.9" r="2.1" fill="#ff0000"/>
<line x1="77.9" y1="685.2" x2="103.6" y2="685.2" stroke="#ff0000" stroke-width="1.8"/>
<line x1="212.1" y1="685.3" x2="238" y2="685.3" stroke="#ff0000" stroke-width="1.8"/>
<line x1="345.4" y1="665.9" x2="369.6" y2="665.9" stroke="#ff0000" stroke-width="1.8"/>
<line x1="345.4" y1="685.3" x2="369.6" y2="685.3" stroke="#ff0000" stroke-width="1.8"/>
<line x1="479.3" y1="666.1" x2="503.7" y2="666.1" stroke="#ff0000" stroke-width="1.8"/>
<line x1="479.3" y1="685" x2="504.4" y2="685" stroke="#ff0000" stroke-width="1.5" stroke-dasharray="3.2 1.6"/>
<text x="106.6" y="689.2" font-size="13.4" fill="#262626">inConf_up</text>
<text x="239.6" y="689.2" font-size="13.4" fill="#262626">outConf_lo</text>
<rect x="239.7" y="689.6" width="0.8" height="1.6" fill="#999"/>
<text x="374.4" y="669.8" font-size="13.4" fill="#262626">inConf_lo</text>
<text x="374.4" y="689.2" font-size="13.4" fill="#262626">outConf_up</text>
<text x="507.8" y="669.8" font-size="13.4" fill="#262626">R1_Y_QwN_wM_hist_ew</text>
<rect x="2.2" y="379.85" width="680.8" height="319.1" fill="none" stroke="#000" stroke-width="2.2"/>
</svg></body></html>
